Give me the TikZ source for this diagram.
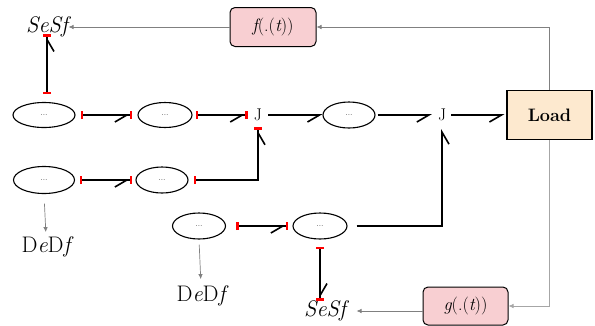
\RequirePackage{fix-cm}
\documentclass[tikz,border=0pt]{standalone}
\usetikzlibrary{arrows.meta,shapes.geometric}
\definecolor{pinkfill}{HTML}{F8CFD2}
\definecolor{loadfill}{HTML}{FDE9CF}
\definecolor{tickred}{HTML}{FF0000}
\begin{document}
\begin{tikzpicture}[x=1pt,y=-1pt,
  oval/.style={ellipse,draw,line width=1.1pt,minimum width=54pt,minimum height=25pt,inner sep=0pt,font=\fontsize{8}{9}\selectfont},
  jn/.style={minimum width=14pt,minimum height=16pt,inner sep=0pt,font=\fontsize{17}{19}\selectfont},
  fbox/.style={draw,rounded corners=5pt,fill=pinkfill,line width=1pt,minimum width=86pt,minimum height=39pt,font=\fontsize{18}{20}\selectfont},
  loadbox/.style={draw,fill=loadfill,line width=1.2pt,minimum width=85pt,minimum height=49pt,font=\fontsize{18}{21}\selectfont\bfseries},
  lbl/.style={inner sep=0.5pt,font=\fontsize{22.5}{25}\selectfont},
  flow/.style={line width=1.6pt,-{Straight Barb[#1,length=12pt,width=14pt,line width=1.6pt]}},
  flow/.default=right,
  rflow/.style={line width=1.6pt,{Bar[color=tickred,width=8pt,line width=2.6pt]}-{Straight Barb[#1,length=12pt,width=14pt,line width=1.6pt] Bar[color=tickred,width=8pt,line width=2.6pt]}},
  rflow/.default=right,
  garrow/.style={draw=gray,line width=0.7pt,-{Latex[length=5pt,width=4.5pt]}}
]
\useasboundingbox (0,0) rectangle (595,325);
% nodes
\node[lbl] (S1) at (47,27) {\itshape SeSf};
\node[fbox] (F) at (273,27) {{\itshape f}(.({\itshape t}))};
\node[loadbox] (L) at (549.5,115) {Load};
\node[oval,minimum width=62pt] (A1) at (44,115) {...};
\node[oval] (A2) at (165,115) {...};
\node[jn] (J1) at (258,115) {J};
\node[oval,minimum width=52pt,minimum height=26pt] (A3) at (349,115) {...};
\node[jn] (J2) at (442,115) {J};
\node[oval,minimum width=61pt,minimum height=27pt] (B1) at (44,180) {...};
\node[oval,minimum width=52pt,minimum height=26pt] (B2) at (162,180) {...};
\node[lbl] (D1) at (46,247) {D{\itshape e}D{\itshape f}};
\node[oval,minimum width=53pt,minimum height=26pt] (C1) at (199,226) {...};
\node[oval,minimum height=26pt] (C2) at (320,226) {...};
\node[lbl] (D2) at (201,296) {D{\itshape e}D{\itshape f}};
\node[lbl] (S2) at (325,311) {\itshape SeSf};
\node[fbox,minimum width=85pt,minimum height=38pt] (G) at (465.5,306) {{\itshape g}(.({\itshape t}))};
% black flows
\draw[rflow,shorten <=7.5pt,shorten >=-4pt] (S1.south |- A1.north) -- (S1.south);
\draw[rflow,shorten <=5pt,shorten >=5pt] (A1.east) -- (A2.west);
\draw[rflow,shorten <=3pt,shorten >=3pt] (A2.east) -- (J1.west);
\draw[flow,shorten <=3pt] (J1.east) -- (A3.west);
\draw[flow,shorten <=2pt,shorten >=3pt] (A3.east) -- (J2.west);
\draw[flow,shorten <=2pt,shorten >=2pt] (J2.east) -- (L.west);
\draw[rflow,shorten <=4.5pt,shorten >=3pt] (B1.east) -- (B2.west);
\draw[rflow,shorten <=5pt,shorten >=4pt] (B2.east) -| (J1.south);
\draw[rflow,shorten <=10pt,shorten >=4pt] (C1.east) -- (C2.west);
\draw[flow,shorten <=9pt,shorten >=6pt] (C2.east) -| (J2.south);
\draw[rflow=left,shorten <=7pt,shorten >=-1pt] (C2.south) -- (C2.south |- S2.north);
% gray connectors
\draw[garrow] (L.north) |- (F.east);
\draw[garrow] (F.west) -- (S1.east);
\draw[garrow,draw=gray!70] (L.south) |- (G.east);
\draw[garrow,shorten >=10pt] (S2.east -| G.west) -- (S2.east);
\draw[garrow,shorten <=9.5pt,shorten >=4pt] (B1.south) -- (D1.north);
\draw[garrow,shorten <=5pt,shorten >=6pt] (C1.south) -- (D2.north);
\end{tikzpicture}
\end{document}
